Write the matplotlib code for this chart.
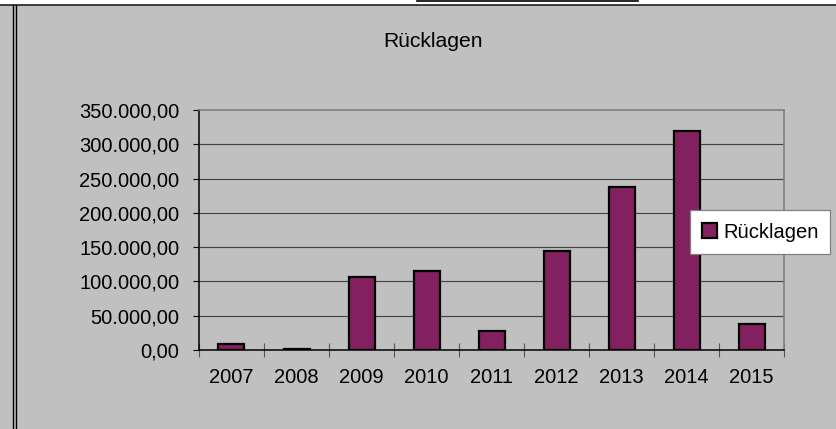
import matplotlib
matplotlib.use("Agg")
import matplotlib.pyplot as plt
from matplotlib.lines import Line2D
from matplotlib.ticker import FuncFormatter, FixedLocator
import numpy as np

years = ["2007", "2008", "2009", "2010", "2011", "2012", "2013", "2014", "2015"]
ruecklagen = [8500, 800, 107000, 115000, 27000, 145000, 237500, 319000, 38500]
series_name = "Rücklagen"
title = "Rücklagen"
yticks = [0, 50000, 100000, 150000, 200000, 250000, 300000, 350000]

BG = "#C0C0C0"
BAR = "#822060"
FONT = ["Liberation Sans", "DejaVu Sans"]
plt.rcParams["font.family"] = FONT

W, H = 837, 429
fig = plt.figure(figsize=(W / 100, H / 100), dpi=100)
fig.patch.set_facecolor(BG)

def fx(px):
    return px / W

def fy(py):
    return 1 - py / H

ax = fig.add_axes([fx(199), fy(350), fx(784) - fx(199), fy(110) - fy(350)])
ax.set_facecolor(BG)

x = np.arange(len(years))
ax.bar(x, ruecklagen, width=0.4, color=BAR, edgecolor="black", linewidth=1.6,
       label=series_name, zorder=3)

ax.set_xlim(-0.5, len(years) - 0.5)
ax.set_ylim(0, 350000)
ax.yaxis.set_major_locator(FixedLocator(yticks))

def de_fmt(v, pos):
    s = "{:,.2f}".format(v)
    return s.replace(",", "X").replace(".", ",").replace("X", ".")

ax.yaxis.set_major_formatter(FuncFormatter(de_fmt))
ax.set_xticks(x)
ax.set_xticklabels(years)
ax.set_xticks(np.arange(len(years) + 1) - 0.5, minor=True)
ax.tick_params(axis="x", which="major", length=0, pad=13.2, labelsize=14.5)
ax.tick_params(axis="x", which="minor", direction="inout", length=9.5, width=0.8, color="#555555")
ax.tick_params(axis="y", which="major", direction="out", length=4.3, width=0.8,
               pad=10, labelsize=14.5)

for v in yticks[1:-1]:
    ax.axhline(v, color="#404040", linewidth=0.8, zorder=1)

ax.spines["left"].set_color("black")
ax.spines["left"].set_linewidth(1.1)
ax.spines["bottom"].set_color("black")
ax.spines["bottom"].set_linewidth(1.1)
ax.spines["bottom"].set_zorder(4)
ax.spines["top"].set_color("#808080")
ax.spines["top"].set_linewidth(1.2)
ax.spines["right"].set_color("#808080")
ax.spines["right"].set_linewidth(1.2)

fig.text(fx(433.5), fy(47.3), title, ha="center", va="baseline", fontsize=15.2)

leg = fig.legend(loc="center", bbox_to_anchor=(fx(760), fy(232)), frameon=True,
                 fancybox=False, fontsize=14.5, handlelength=0.75, handleheight=0.75,
                 handletextpad=0.3, borderpad=0.6, borderaxespad=0)
leg.get_frame().set_facecolor("white")
leg.get_frame().set_edgecolor("#808080")
leg.get_frame().set_linewidth(0.9)
leg.get_frame().set_alpha(1)

# outer sheet decorations
fig.add_artist(matplotlib.patches.Rectangle((0, fy(5)), 1, 1 - fy(5), transform=fig.transFigure,
                                            facecolor="white", edgecolor="none"))
fig.add_artist(Line2D([0, 1], [fy(5), fy(5)], transform=fig.transFigure, color="#202020", linewidth=1.2))
fig.add_artist(Line2D([fx(417), fx(638)], [fy(0.5), fy(0.5)], transform=fig.transFigure, color="black", linewidth=1.2))
fig.add_artist(Line2D([fx(13.5), fx(13.5)], [0, fy(5)], transform=fig.transFigure, color="black", linewidth=1.0))
fig.add_artist(Line2D([fx(15.8), fx(15.8)], [0, fy(5)], transform=fig.transFigure, color="black", linewidth=1.0))

fig.savefig("out.png", dpi=100, facecolor=BG)
